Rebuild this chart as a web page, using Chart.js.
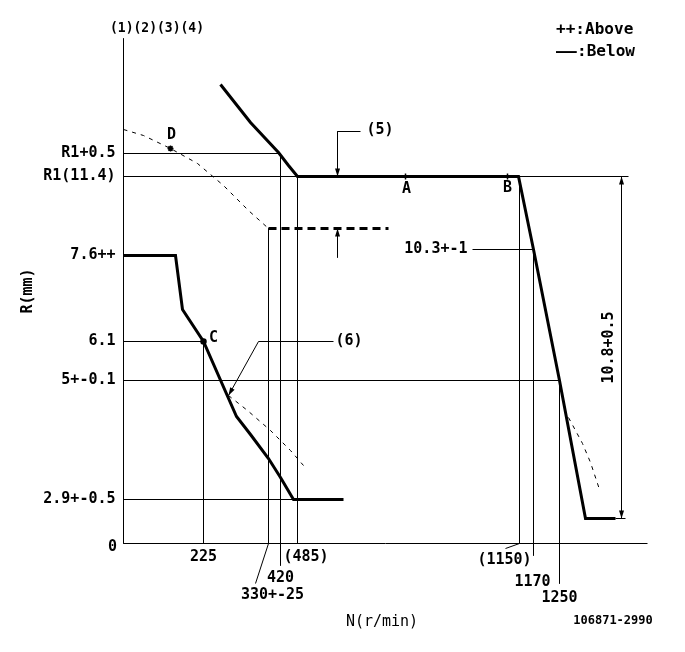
<!DOCTYPE html>
<html>
<head>
<meta charset="utf-8">
<script src="https://cdn.jsdelivr.net/npm/chart.js@4.4.1/dist/chart.umd.min.js"></script>
<style>
  body { margin: 0; background: #fff; }
  canvas { display: block; }
</style>
</head>
<body>
<canvas id="myChart" width="685" height="652"></canvas>
<script>
// schematic diagram units: N runs along the axis, R runs up the axis
const rLevels = [390, 367, 288, 202, 163, 44];
const rLabels = ["R1+0.5", "R1(11.4)", "7.6++", "6.1", "5+-0.1", "2.9+-0.5"];
const rLineEnd = [157, 505, null, 80, 436, 170];

const nMarks = [80, 145, 157, 174, 396, 410, 436];
const nLabels = ["225", "330+-25", "420", "(485)", "(1150)", "1170", "1250"];
const nLineTop = [202, 315, 390, 367, 367, 294, 163];
const nLineBottom = [0, 0, -22, 0, 0, -12, -40];

// full load / governor curve
const maxCurveN = [97, 127, 155, 165, 174, 395, 410, 436, 462, 492];
const maxCurveR = [459, 421, 391, 378, 367, 367, 294, 163, 25, 25];
// idle curve
const idleCurveN = [0, 52, 59, 80, 113, 127, 145, 157, 170, 220];
const idleCurveR = [288, 288, 234, 202, 127, 109, 85, 66, 44, 44];
// dashed thin curves
const dCurveN = [0, 20, 47, 74, 100, 125, 145];
const dCurveR = [414, 408, 395, 380, 358, 333, 315];
const idleDashN = [105, 124, 147, 167, 180];
const idleDashR = [148, 133, 113, 93, 78];
const cutDashN = [445, 459, 467, 476];
const cutDashR = [126, 100, 81, 54];
// dashed thick stop line
const stopN = [145, 265];
const stopR = [315, 315];

// named points
const pointNames = ["D", "A", "B", "C"];
const pointN = [47, 282, 384, 80];
const pointR = [395, 367, 367, 202];

const toXY = (ns, rs) => ns.map((n, i) => ({ x: n, y: rs[i] }));

const thin = (data, extra) => ({
  data, showLine: true, pointRadius: 0, borderColor: "#000",
  borderWidth: 1, clip: false, tension: 0, ...extra,
});

let datasets = [];

// axes
datasets.push(thin([{ x: 0, y: 505 }, { x: 0, y: 0 }, { x: 524, y: 0 }]));

// horizontal reference lines
rLevels.forEach((r, i) => {
  if (rLineEnd[i] !== null) {
    datasets.push(thin([{ x: 0, y: r }, { x: rLineEnd[i], y: r }]));
  }
});
// vertical reference lines
nMarks.forEach((n, i) => {
  datasets.push(thin([{ x: n, y: nLineTop[i] }, { x: n, y: nLineBottom[i] }]));
});
// label leaders
datasets.push(thin([{ x: 145, y: 0 }, { x: 132, y: -40 }]));
datasets.push(thin([{ x: 396, y: 0 }, { x: 382, y: -5 }]));
datasets.push(thin([{ x: 349, y: 294 }, { x: 410, y: 294 }]));
datasets.push(thin([{ x: 214, y: 412 }, { x: 237, y: 412 }]));
datasets.push(thin([{ x: 214, y: 412 }, { x: 214, y: 367 }]));
datasets.push(thin([{ x: 214, y: 315 }, { x: 214, y: 286 }]));
datasets.push(thin([{ x: 210, y: 202 }, { x: 135, y: 202 }, { x: 105, y: 148 }]));
datasets.push(thin([{ x: 498, y: 367 }, { x: 498, y: 25 }]));
datasets.push(thin([{ x: 492, y: 25 }, { x: 502, y: 25 }]));

// dashed thin curves
const dash = { borderDash: [4, 5] };
datasets.push(thin(toXY(dCurveN, dCurveR), dash));
datasets.push(thin(toXY(idleDashN, idleDashR), dash));
datasets.push(thin(toXY(cutDashN, cutDashR), dash));

// thick curves
datasets.push(thin(toXY(maxCurveN, maxCurveR), { borderWidth: 3 }));
datasets.push(thin(toXY(idleCurveN, idleCurveR), { borderWidth: 3 }));
datasets.push(thin(toXY(stopN, stopR), { borderWidth: 3, borderDash: [8, 5] }));

// marks on points
datasets.push({
  data: toXY(pointN, pointR), showLine: false, clip: false,
  pointStyle: ["star", "line", "line", "circle"],
  pointRotation: [0, 90, 90, 0],
  pointRadius: [3, 3, 3, 2.5],
  borderColor: "#000", backgroundColor: "#000", borderWidth: 1.5,
});

const arrowTips = [
  { n: 214, r: 367, from: { n: 214, r: 412 } },
  { n: 214, r: 315, from: { n: 214, r: 286 } },
  { n: 105, r: 148, from: { n: 135, r: 202 } },
  { n: 498, r: 367, from: { n: 498, r: 25 } },
  { n: 498, r: 25, from: { n: 498, r: 367 } },
];

const drawText = (ctx, text, x, y, font, align, rot, sx) => {
  ctx.save();
  ctx.font = font;
  ctx.fillStyle = "#000";
  ctx.textAlign = align || "center";
  ctx.textBaseline = "middle";
  ctx.translate(x, y);
  if (rot) ctx.rotate(rot);
  if (sx) ctx.scale(sx, 1);
  ctx.fillText(text, 0, 0);
  ctx.restore();
};

const labelsPlugin = {
  id: "labels",
  afterDraw(chart) {
    const ctx = chart.ctx;
    const px = (v) => chart.scales.x.getPixelForValue(v);
    const py = (v) => chart.scales.y.getPixelForValue(v);
    const bold = 'bold 15px "DejaVu Sans Mono"';

    // arrowheads
    arrowTips.forEach((a) => {
      const tx = px(a.n), ty = py(a.r);
      const ang = Math.atan2(ty - py(a.from.r), tx - px(a.from.n));
      ctx.save();
      ctx.translate(tx, ty);
      ctx.rotate(ang);
      ctx.beginPath();
      ctx.moveTo(0, 0);
      ctx.lineTo(-8, -2.5);
      ctx.lineTo(-8, 2.5);
      ctx.closePath();
      ctx.fillStyle = "#000";
      ctx.fill();
      ctx.restore();
    });

    // R levels on the left
    rLabels.forEach((t, i) => drawText(ctx, t, px(0) - 8, py(rLevels[i]), bold, "right"));
    drawText(ctx, "0", px(0) - 11, py(0) + 4, bold);

    // N marks below the axis
    const nOff = [[0, 14], [4, 52], [0, 35], [10, 14, "left"], [-15, 17], [-1, 39], [0, 55]];
    nLabels.forEach((t, i) => {
      const o = nOff[i];
      const x = o[2] === "left" ? px(nMarks[i]) - 14 : px(nMarks[i]) + o[0];
      drawText(ctx, t, x, py(0) + o[1], bold, o[2]);
    });

    // named points
    drawText(ctx, "D", px(pointN[0]) + 1, py(pointR[0]) - 13, bold);
    drawText(ctx, "A", px(pointN[1]) + 1, py(pointR[1]) + 13, bold);
    drawText(ctx, "B", px(pointN[2]), py(pointR[2]) + 12, bold);
    drawText(ctx, "C", px(pointN[3]) + 10, py(pointR[3]) - 3, bold);

    // callouts
    drawText(ctx, "(5)", px(237) + 6, py(412) - 1, bold, "left");
    drawText(ctx, "(6)", px(210) + 2, py(202), bold, "left");
    drawText(ctx, "10.3+-1", px(349) - 5, py(294), bold, "right");
    drawText(ctx, "10.8+0.5", px(498) - 12, py(196), bold, "center", -Math.PI / 2);

    // titles
    drawText(ctx, "(1)(2)(3)(4)", 157, 28, 'bold 14px "DejaVu Sans Mono"', "center", 0, 0.93);
    drawText(ctx, "++:Above", 556, 30, bold, "left", 0, 1.07);
    drawText(ctx, "—", 556, 52, bold, "left", 0, 2.3);
    drawText(ctx, ":Below", 577, 52, bold, "left", 0, 1.07);
    drawText(ctx, "R(mm)", 28, 291, bold, "center", -Math.PI / 2);
    drawText(ctx, "N(r/min)", 382, 622, '15px "DejaVu Sans Mono"');
    drawText(ctx, "106871-2990", 613, 621, 'bold 12px "DejaVu Sans Mono"');
  },
};

new Chart(document.getElementById("myChart"), {
  type: "scatter",
  data: { datasets },
  options: {
    responsive: false,
    animation: false,
    devicePixelRatio: 1,
    layout: { padding: { left: 123.5, top: 38.5, right: 37.5, bottom: 108.5 } },
    plugins: { legend: { display: false }, tooltip: { enabled: false } },
    scales: {
      x: { type: "linear", min: 0, max: 524, display: false },
      y: { type: "linear", min: 0, max: 505, display: false },
    },
  },
  plugins: [labelsPlugin],
});
</script>
</body>
</html>
